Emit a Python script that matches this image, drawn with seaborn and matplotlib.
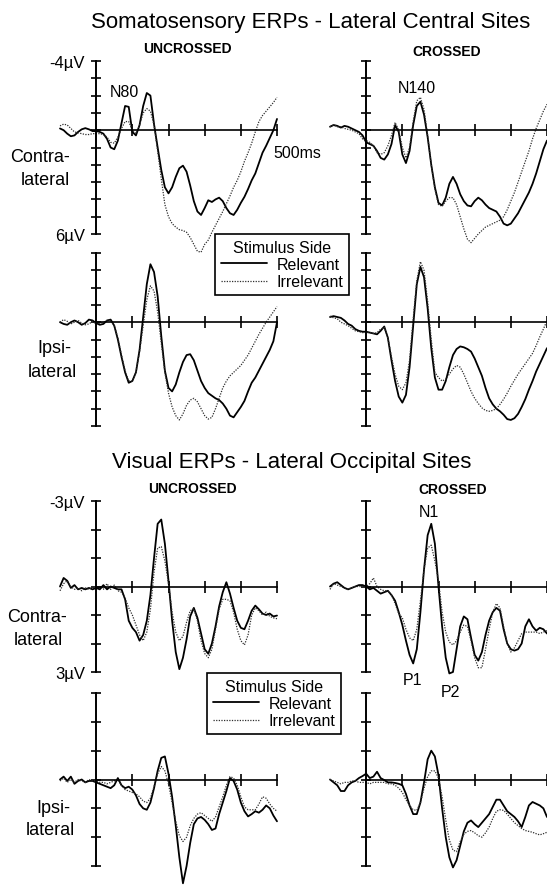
import matplotlib
matplotlib.use("Agg")
import matplotlib.pyplot as plt
import seaborn as sns

sns.set_style("white")
plt.rcParams["font.family"] = ["Liberation Sans", "DejaVu Sans"]
plt.rcParams["text.color"] = "black"
plt.rcParams["axes.edgecolor"] = "black"
plt.rcParams["xtick.color"] = "black"
plt.rcParams["ytick.color"] = "black"

W, H = 547, 887

# sample times (ms) shared by every waveform
TIME_MS = list(range(-100, 501, 10))

# ---- Somatosensory ERPs, lateral central sites (µV, negative up) ----
SOMA_CONTRA_UNCROSSED_REL = [
    -0.1, 0.0, 0.2, 0.35, 0.3, 0.1, -0.05, -0.12, -0.05, 0.05,
    0.05, 0.1, 0.2, 0.5, 1.0, 1.1, 0.6, -0.4, -1.4, -1.35,
    0.1, 0.3, -0.3, -1.4, -2.15, -2.0, -0.35, 1.0, 2.3, 3.3,
    3.65, 3.3, 2.7, 2.2, 2.05, 2.4, 3.2, 4.1, 4.7, 4.9,
    4.5, 4.05, 4.15, 4.0, 3.9, 4.1, 4.5, 4.8, 4.9, 4.6,
    4.2, 3.85, 3.4, 2.9, 2.5, 1.9, 1.3, 0.9, 0.45, 0.0,
    -0.65]
SOMA_CONTRA_UNCROSSED_IRR = [
    -0.25, -0.35, -0.3, -0.1, 0.1, 0.15, 0.2, 0.25, 0.25, 0.2,
    0.2, 0.2, 0.25, 0.4, 0.7, 0.75, 0.4, -0.1, -0.5, -0.5,
    0.0, 0.2, -0.3, -1.0, -1.25, -1.1, -0.3, 1.2, 2.8, 4.3,
    5.0, 5.4, 5.6, 5.75, 5.8, 5.9, 6.2, 6.6, 7.0, 7.05,
    6.6, 6.35, 5.9, 5.5, 5.1, 4.7, 4.25, 3.8, 3.3, 2.9,
    2.4, 1.8, 1.3, 0.75, 0.1, -0.5, -0.85, -1.1, -1.35, -1.6,
    -1.9]
SOMA_CONTRA_CROSSED_REL = [
    -0.2, -0.3, -0.25, -0.15, -0.25, -0.2, -0.1, 0.0, 0.1, 0.3,
    0.7, 0.8, 0.9, 1.2, 1.6, 1.7, 1.4, 0.8, -0.3, 0.1,
    1.4, 1.9, 1.2, -0.3, -1.4, -1.65, -0.9, 0.4, 2.0, 3.3,
    4.2, 4.35, 3.9, 3.1, 2.7, 3.1, 3.7, 4.1, 4.35, 4.4,
    4.1, 3.9, 4.05, 4.3, 4.5, 4.6, 4.7, 5.0, 5.4, 5.5,
    5.4, 5.1, 4.8, 4.4, 4.0, 3.6, 3.1, 2.5, 1.8, 1.1,
    0.6]
SOMA_CONTRA_CROSSED_IRR = [
    -0.2, -0.3, -0.2, -0.2, -0.1, -0.05, 0.0, 0.1, 0.2, 0.5,
    0.6, 0.7, 0.9, 1.3, 1.4, 1.3, 0.9, 0.3, -0.45, 0.0,
    1.0, 1.6, 1.0, -0.5, -1.7, -1.9, -1.2, 0.3, 2.0, 3.4,
    4.3, 4.4, 4.1, 3.9, 3.9, 4.3, 5.0, 5.7, 6.3, 6.5,
    6.25, 6.0, 5.8, 5.6, 5.5, 5.4, 5.3, 5.2, 5.0, 4.6,
    4.1, 3.6, 3.0, 2.4, 1.8, 1.2, 0.5, -0.1, -0.6, -1.1,
    -1.5]
SOMA_IPSI_UNCROSSED_REL = [
    0.0, 0.1, 0.15, 0.0, -0.1, 0.0, 0.15, 0.05, -0.15, -0.1,
    0.05, 0.15, 0.1, -0.1, -0.15, 0.2, 1.0, 2.0, 2.9, 3.5,
    3.4, 2.9, 1.6, -0.3, -2.2, -3.35, -2.9, -1.5, 0.8, 2.8,
    3.8, 4.0, 3.6, 2.9, 2.3, 1.9, 1.85, 2.2, 2.8, 3.4,
    3.8, 4.1, 4.25, 4.4, 4.5, 4.7, 5.0, 5.4, 5.5, 5.2,
    4.9, 4.55, 4.0, 3.5, 3.2, 2.8, 2.4, 2.0, 1.6, 1.1,
    0.0]
SOMA_IPSI_UNCROSSED_IRR = [
    0.0, -0.15, -0.05, 0.1, 0.0, -0.1, 0.05, 0.15, 0.1, -0.05,
    0.1, 0.05, 0.0, -0.1, -0.1, 0.2, 0.9, 1.9, 2.8, 3.4,
    3.4, 2.9, 1.7, 0.2, -1.3, -2.1, -1.8, -0.6, 1.2, 2.9,
    4.1, 4.9, 5.4, 5.65, 5.3, 4.8, 4.5, 4.4, 4.6, 5.0,
    5.4, 5.6, 5.5, 5.0, 4.4, 3.8, 3.4, 3.1, 2.9, 2.7,
    2.5, 2.2, 1.9, 1.5, 1.1, 0.7, 0.35, 0.0, -0.3, -0.6,
    -0.9]
SOMA_IPSI_CROSSED_REL = [
    -0.3, -0.35, -0.3, -0.25, -0.1, 0.1, 0.2, 0.4, 0.5, 0.55,
    0.55, 0.6, 0.65, 0.7, 0.5, 0.25, 0.9, 2.2, 3.4, 4.3,
    4.65, 4.2, 2.6, 0.2, -2.2, -3.2, -2.6, -0.8, 1.5, 3.2,
    3.9, 3.9, 3.4, 2.6, 1.9, 1.55, 1.4, 1.45, 1.55, 1.7,
    2.1, 2.6, 3.1, 3.8, 4.4, 4.75, 5.0, 5.15, 5.35, 5.6,
    5.65, 5.55, 5.3, 4.9, 4.45, 3.9, 3.4, 2.85, 2.4, 1.95,
    1.5]
SOMA_IPSI_CROSSED_IRR = [
    -0.35, -0.25, -0.2, 0.0, 0.1, 0.2, 0.35, 0.5, 0.55, 0.6,
    0.6, 0.6, 0.65, 0.6, 0.4, 0.3, 0.9, 2.0, 3.0, 3.7,
    3.9, 3.5, 2.2, -0.2, -2.4, -3.5, -3.0, -1.2, 1.0, 2.9,
    3.2, 3.4, 3.3, 3.0, 2.7, 2.5, 2.6, 3.0, 3.5, 4.0,
    4.4, 4.7, 4.95, 5.1, 5.15, 5.1, 5.0, 4.75, 4.45, 4.1,
    3.7, 3.35, 3.0, 2.7, 2.4, 2.1, 1.8, 1.35, 0.85, 0.4,
    -0.1]

# ---- Visual ERPs, lateral occipital sites (µV, negative up) ----
VIS_CONTRA_UNCROSSED_REL = [
    0.0, -0.3, -0.2, 0.05, -0.05, 0.1, 0.05, 0.1, 0.05, 0.1,
    0.05, 0.1, -0.05, 0.1, 0.0, 0.05, 0.1, 0.1, 0.45, 1.2,
    1.45, 1.6, 1.9, 1.7, 1.2, 0.3, -1.0, -2.2, -2.35, -1.5,
    -0.2, 1.2, 2.3, 2.9, 2.5, 1.85, 1.05, 0.75, 1.1, 1.65,
    2.2, 2.36, 2.0, 1.4, 0.7, 0.2, -0.15, 0.25, 0.75, 1.2,
    1.45, 1.5, 1.2, 0.85, 0.67, 0.8, 0.95, 1.0, 0.95, 1.05,
    1.02]
VIS_CONTRA_UNCROSSED_IRR = [
    0.15, -0.1, -0.2, 0.0, 0.1, 0.05, 0.15, 0.05, 0.1, 0.0,
    0.05, 0.0, 0.1, -0.1, 0.1, -0.05, 0.15, 0.2, 0.4, 0.75,
    1.0, 1.35, 1.7, 1.9, 1.6, 0.8, -0.5, -1.35, -1.4, -0.9,
    -0.1, 0.9, 1.6, 1.9, 1.75, 1.25, 0.85, 0.78, 1.2, 1.9,
    2.35, 2.5, 2.2, 1.5, 0.8, 0.45, 0.45, 0.5, 0.9, 1.5,
    1.9, 2.05, 1.7, 1.0, 0.75, 0.85, 1.0, 0.9, 1.05, 1.1,
    1.13]
VIS_CONTRA_CROSSED_REL = [
    0.0, -0.1, -0.15, -0.05, 0.05, 0.1, 0.05, 0.0, -0.05, -0.05,
    0.0, 0.1, 0.05, 0.15, 0.25, 0.2, 0.15, 0.3, 0.5, 0.9,
    1.35, 1.9, 2.4, 2.7, 2.2, 0.9, -0.6, -1.8, -2.2, -1.5,
    0.0, 1.4, 2.5, 3.05, 3.0, 2.2, 1.4, 1.05, 1.15, 1.8,
    2.4, 2.6, 2.3, 1.7, 1.2, 0.9, 0.75, 0.85, 1.5, 2.0,
    2.2, 2.25, 2.2, 2.0, 1.4, 1.15, 1.4, 1.55, 1.45, 1.5,
    1.65]
VIS_CONTRA_CROSSED_IRR = [
    0.1, -0.1, -0.05, 0.0, 0.05, 0.1, 0.05, 0.0, 0.0, 0.0,
    0.0, -0.1, -0.3, 0.0, 0.1, 0.15, 0.15, 0.3, 0.6, 0.95,
    1.1, 1.5, 1.8, 1.9, 1.5, 0.5, -0.6, -1.35, -1.45, -0.9,
    -0.2, 0.9, 1.6, 1.95, 2.05, 1.9, 1.6, 1.35, 1.4, 1.9,
    2.5, 2.85, 2.85, 2.2, 1.5, 0.9, 0.6, 0.75, 1.4, 2.0,
    2.3, 2.15, 1.9, 1.65, 1.6, 1.6, 1.6, 1.6, 1.65, 1.6,
    1.55]
VIS_IPSI_UNCROSSED_REL = [
    0.0, -0.1, 0.05, -0.1, 0.15, 0.05, 0.0, 0.1, 0.05, 0.05,
    0.1, 0.15, 0.2, 0.25, 0.3, 0.2, -0.05, 0.2, 0.3, 0.25,
    0.35, 0.55, 0.85, 1.0, 1.05, 0.8, 0.3, -0.3, -0.75, -0.8,
    -0.2, 0.6, 1.6, 2.7, 3.6, 3.0, 2.2, 1.55, 1.35, 1.3,
    1.4, 1.55, 1.75, 1.7, 1.2, 0.8, 0.4, -0.05, 0.05, 0.35,
    0.8, 1.1, 1.28, 1.2, 1.1, 1.15, 1.05, 0.9, 1.0, 1.25,
    1.45]
VIS_IPSI_UNCROSSED_IRR = [
    0.05, -0.05, 0.1, 0.0, 0.1, 0.0, 0.05, 0.1, 0.0, 0.05,
    0.05, 0.1, 0.1, 0.15, 0.1, 0.05, 0.0, 0.2, 0.35, 0.4,
    0.45, 0.5, 0.6, 0.75, 0.8, 0.65, 0.25, -0.2, -0.45, -0.3,
    0.15, 0.8, 1.45, 1.95, 2.15, 2.0, 1.6, 1.35, 1.2, 1.15,
    1.25, 1.35, 1.45, 1.3, 0.95, 0.6, 0.2, -0.1, -0.05, 0.2,
    0.6, 0.95, 1.05, 1.05, 1.05, 0.85, 0.6, 0.65, 0.85, 1.0,
    1.1]
VIS_IPSI_CROSSED_REL = [
    0.0, 0.1, 0.2, 0.4, 0.4, 0.2, 0.1, 0.05, -0.05, -0.12,
    -0.2, -0.05, -0.1, -0.27, -0.05, 0.02, 0.1, 0.1, 0.12, 0.15,
    0.2, 0.5, 0.9, 1.2, 1.2, 0.8, 0.1, -0.7, -1.0, -0.8,
    -0.15, 1.0, 2.0, 2.7, 3.05, 2.8, 2.3, 1.8, 1.5, 1.42,
    1.55, 1.65, 1.5, 1.35, 1.2, 0.95, 0.7, 0.7, 0.9, 1.1,
    1.2, 1.3, 1.45, 1.65, 1.3, 0.9, 0.78, 0.84, 0.9, 1.0,
    1.3]
VIS_IPSI_CROSSED_IRR = [
    0.0, 0.05, 0.1, 0.15, 0.1, 0.1, 0.05, 0.05, 0.1, 0.1,
    0.1, 0.15, 0.1, 0.1, 0.1, 0.1, 0.15, 0.15, 0.2, 0.3,
    0.45, 0.7, 0.9, 1.05, 1.07, 0.8, 0.3, -0.1, -0.3, -0.3,
    -0.05, 0.6, 1.4, 2.1, 2.45, 2.5, 2.15, 1.9, 1.8, 1.77,
    1.85, 1.95, 2.0, 1.85, 1.65, 1.35, 1.1, 1.05, 1.07, 1.2,
    1.35, 1.5, 1.6, 1.7, 1.77, 1.8, 1.83, 1.88, 1.92, 1.88,
    1.83]

SOMA_RANGE = (-4, 6)
VIS_RANGE = (-3, 3)
TIME_TICKS = [100, 200, 300, 400, 500]

fig = plt.figure(figsize=(W / 100, H / 100), dpi=100)


def px_axes(left, top, width, height):
    return fig.add_axes([left / W, 1 - (top + height) / H, width / W, height / H])


def px_text(x, y, s, **kw):
    kw.setdefault("va", "baseline")
    fig.text(x / W, 1 - y / H, s, **kw)


def erp_panel(ax, rel, irr, vrange, end_labels):
    vmin, vmax = vrange
    sns.lineplot(x=TIME_MS, y=rel, ax=ax, color="black", linewidth=1.3,
                 legend=False, errorbar=None, label="Relevant")
    sns.lineplot(x=TIME_MS, y=irr, ax=ax, color="#2e2e2e", linewidth=0.9,
                 linestyle=(0, (1, 1.1)), legend=False, errorbar=None,
                 label="Irrelevant")
    for line in ax.lines:
        line.set_clip_on(False)
    ax.set_xlim(-100, 500)
    ax.set_ylim(vmax, vmin)  # negative voltage plotted upward
    ax.patch.set_visible(False)
    ax.set_xlabel("")
    ax.set_ylabel("")
    for side in ("top", "right"):
        ax.spines[side].set_visible(False)
    ax.spines["left"].set_position(("data", 0))
    ax.spines["bottom"].set_position(("data", 0))
    ax.spines["left"].set_bounds(vmin, vmax)
    ax.spines["bottom"].set_bounds(0, 500)
    ax.spines["left"].set_linewidth(1.4)
    ax.spines["bottom"].set_linewidth(1.2)
    ax.set_xticks(TIME_TICKS)
    ax.set_xticklabels([])
    ticks = list(range(vmin, vmax + 1))
    ax.set_yticks(ticks)
    if end_labels:
        labels = [""] * len(ticks)
        labels[0], labels[-1] = end_labels
        ax.set_yticklabels(labels, fontsize=12)
    else:
        ax.set_yticklabels([])
    ax.tick_params(axis="x", bottom=True, direction="inout", length=9, width=1.2)
    ax.tick_params(axis="y", left=True, direction="inout", length=7, width=1.2, pad=4.5)


panels = [
    # (left, top, height, rel, irr, range, end labels)
    (60, 62, 173, SOMA_CONTRA_UNCROSSED_REL, SOMA_CONTRA_UNCROSSED_IRR, SOMA_RANGE, ("-4µV", "6µV")),
    (330, 62, 173, SOMA_CONTRA_CROSSED_REL, SOMA_CONTRA_CROSSED_IRR, SOMA_RANGE, None),
    (60, 254, 173, SOMA_IPSI_UNCROSSED_REL, SOMA_IPSI_UNCROSSED_IRR, SOMA_RANGE, None),
    (330, 254, 173, SOMA_IPSI_CROSSED_REL, SOMA_IPSI_CROSSED_IRR, SOMA_RANGE, None),
    (60, 502, 171, VIS_CONTRA_UNCROSSED_REL, VIS_CONTRA_UNCROSSED_IRR, VIS_RANGE, ("-3µV", "3µV")),
    (330, 502, 171, VIS_CONTRA_CROSSED_REL, VIS_CONTRA_CROSSED_IRR, VIS_RANGE, None),
    (60, 694, 173, VIS_IPSI_UNCROSSED_REL, VIS_IPSI_UNCROSSED_IRR, VIS_RANGE, None),
    (330, 694, 173, VIS_IPSI_CROSSED_REL, VIS_IPSI_CROSSED_IRR, VIS_RANGE, None),
]

axes = []
for left, top, height, rel, irr, vr, ends in panels:
    ax = px_axes(left, top, 217, height)
    erp_panel(ax, rel, irr, vr, ends)
    axes.append(ax)

# section titles and column headings
px_text(311, 28, "Somatosensory ERPs - Lateral Central Sites", fontsize=16, ha="center")
px_text(187, 53, "UNCROSSED", fontsize=10, ha="center", fontweight="bold")
px_text(447, 56, "CROSSED", fontsize=10, ha="center", fontweight="bold")
px_text(292, 468, "Visual ERPs - Lateral Occipital Sites", fontsize=16, ha="center")
px_text(192, 493, "UNCROSSED", fontsize=10, ha="center", fontweight="bold")
px_text(453, 494, "CROSSED", fontsize=10, ha="center", fontweight="bold")

# row labels
px_text(40, 162, "Contra-", fontsize=13, ha="center")
px_text(45, 185, "lateral", fontsize=13, ha="center")
px_text(54, 353, "Ipsi-", fontsize=13, ha="center")
px_text(52, 377, "lateral", fontsize=13, ha="center")
px_text(37, 622, "Contra-", fontsize=13, ha="center")
px_text(38, 645, "lateral", fontsize=13, ha="center")
px_text(53, 813, "Ipsi-", fontsize=13, ha="center")
px_text(50, 835, "lateral", fontsize=13, ha="center")

# component labels
px_text(110, 97, "N80", fontsize=11.5, ha="left")
px_text(398, 93, "N140", fontsize=11.5, ha="left")
px_text(273, 158, "500ms", fontsize=11.5, ha="left")
px_text(429, 517, "N1", fontsize=11.5, ha="center")
px_text(413, 685, "P1", fontsize=11.5, ha="center")
px_text(450, 697, "P2", fontsize=11.5, ha="center")

handles = axes[0].lines[:2]
for lx, ly in [(215, 235), (207, 674)]:
    leg = fig.legend(handles, ["Relevant", "Irrelevant"], title="Stimulus Side",
                     loc="upper left", bbox_to_anchor=(lx / W, 1 - ly / H),
                     borderaxespad=0, fontsize=11.5, title_fontsize=11.5,
                     handlelength=2.9, handletextpad=0.6, borderpad=0.35,
                     labelspacing=0.15, frameon=True, fancybox=False,
                     framealpha=1, edgecolor="black")
    leg.get_frame().set_linewidth(1.2)

fig.savefig("out.png", dpi=100)
